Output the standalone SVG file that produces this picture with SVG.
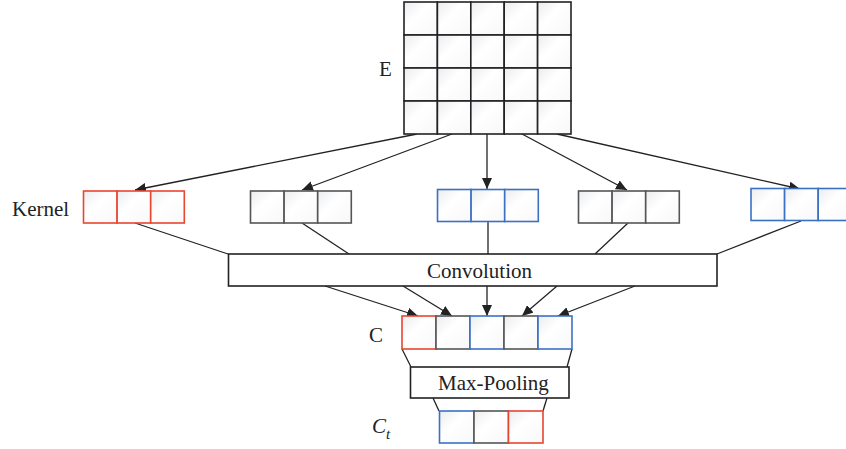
<svg xmlns="http://www.w3.org/2000/svg" width="846" height="449" viewBox="0 0 846 449">
<defs>
<linearGradient id="cellg" x1="0" y1="0" x2="1" y2="1">
<stop offset="0" stop-color="#ebecef"/>
<stop offset="0.4" stop-color="#ffffff"/>
<stop offset="1" stop-color="#f8f8fa"/>
</linearGradient>
<marker id="arr" markerUnits="userSpaceOnUse" markerWidth="12" markerHeight="10" refX="11" refY="5" orient="auto">
<path d="M0,0 L11,5 L0,10 Z" fill="#222"/>
</marker>
<style>
.c{fill:url(#cellg);stroke-width:1.6}
.k{stroke:#222}
.r{stroke:#e8462f}
.b{stroke:#3b71c2}
.g{stroke:#555}
.ln{fill:none;stroke:#222;stroke-width:1.3}
.box{fill:#fff;stroke:#222;stroke-width:1.6}
.t{font-family:"Liberation Serif","Times New Roman",serif;font-size:21px;fill:#222}
</style>
</defs>
<g id="connectors">
<line class="ln" x1="417" y1="134" x2="135" y2="190" marker-end="url(#arr)"/>
<line class="ln" x1="452" y1="134" x2="302" y2="190" marker-end="url(#arr)"/>
<line class="ln" x1="487" y1="134" x2="487" y2="189" marker-end="url(#arr)"/>
<line class="ln" x1="522" y1="134" x2="627" y2="190" marker-end="url(#arr)"/>
<line class="ln" x1="557" y1="134" x2="800" y2="189" marker-end="url(#arr)"/>
<line class="ln" x1="135" y1="223" x2="228" y2="254"/>
<line class="ln" x1="302" y1="223" x2="349" y2="254"/>
<line class="ln" x1="488" y1="222" x2="488" y2="254"/>
<line class="ln" x1="628" y1="223" x2="595" y2="254"/>
<line class="ln" x1="801" y1="221" x2="717" y2="254"/>
<line class="ln" x1="325" y1="286" x2="418" y2="316" marker-end="url(#arr)"/>
<line class="ln" x1="403" y1="286" x2="452" y2="316" marker-end="url(#arr)"/>
<line class="ln" x1="487" y1="286" x2="487" y2="316" marker-end="url(#arr)"/>
<line class="ln" x1="557" y1="286" x2="522" y2="316" marker-end="url(#arr)"/>
<line class="ln" x1="635" y1="286" x2="558" y2="316" marker-end="url(#arr)"/>
<line class="ln" x1="402" y1="349" x2="411" y2="367"/>
<line class="ln" x1="572" y1="349" x2="567" y2="367"/>
<line class="ln" x1="433" y1="398" x2="439" y2="411"/>
<line class="ln" x1="547" y1="398" x2="543" y2="411"/>
</g>
<g id="E">
<g class="k">
<rect class="c" x="404" y="2" width="33.4" height="33"/><rect class="c" x="437.4" y="2" width="33.4" height="33"/><rect class="c" x="470.8" y="2" width="33.4" height="33"/><rect class="c" x="504.2" y="2" width="33.4" height="33"/><rect class="c" x="537.6" y="2" width="33.4" height="33"/>
<rect class="c" x="404" y="35" width="33.4" height="33"/><rect class="c" x="437.4" y="35" width="33.4" height="33"/><rect class="c" x="470.8" y="35" width="33.4" height="33"/><rect class="c" x="504.2" y="35" width="33.4" height="33"/><rect class="c" x="537.6" y="35" width="33.4" height="33"/>
<rect class="c" x="404" y="68" width="33.4" height="33"/><rect class="c" x="437.4" y="68" width="33.4" height="33"/><rect class="c" x="470.8" y="68" width="33.4" height="33"/><rect class="c" x="504.2" y="68" width="33.4" height="33"/><rect class="c" x="537.6" y="68" width="33.4" height="33"/>
<rect class="c" x="404" y="101" width="33.4" height="33"/><rect class="c" x="437.4" y="101" width="33.4" height="33"/><rect class="c" x="470.8" y="101" width="33.4" height="33"/><rect class="c" x="504.2" y="101" width="33.4" height="33"/><rect class="c" x="537.6" y="101" width="33.4" height="33"/>
</g>
<text class="t" x="379" y="76">E</text>
</g>
<g id="kernel1" class="r">
<rect class="c" x="83.5" y="191" width="33.6" height="32"/><rect class="c" x="117.1" y="191" width="33.6" height="32"/><rect class="c" x="150.7" y="191" width="33.6" height="32"/>
<text class="t" x="12" y="216" stroke="none">Kernel</text>
</g>
<g id="kernel2" class="g">
<rect class="c" x="250.5" y="191" width="33.6" height="32"/><rect class="c" x="284.1" y="191" width="33.6" height="32"/><rect class="c" x="317.7" y="191" width="33.6" height="32"/>
</g>
<g id="kernel3" class="b">
<rect class="c" x="437.5" y="189.5" width="33.6" height="32"/><rect class="c" x="471.1" y="189.5" width="33.6" height="32"/><rect class="c" x="504.7" y="189.5" width="33.6" height="32"/>
</g>
<g id="kernel4" class="g">
<rect class="c" x="578.5" y="191" width="33.6" height="32"/><rect class="c" x="612.1" y="191" width="33.6" height="32"/><rect class="c" x="645.7" y="191" width="33.6" height="32"/>
</g>
<g id="kernel5" class="b">
<rect class="c" x="751" y="188.5" width="33.6" height="32"/><rect class="c" x="784.6" y="188.5" width="33.6" height="32"/><rect class="c" x="818.2" y="188.5" width="33.6" height="32"/>
</g>
<g id="convolution">
<rect class="box" x="228.5" y="254" width="488.5" height="32"/>
<text class="t" x="427" y="278">Convolution</text>
</g>
<g id="C">
<rect class="c r" x="402" y="316" width="34" height="33"/>
<rect class="c g" x="436" y="316" width="34" height="33"/>
<rect class="c b" x="470" y="316" width="34" height="33"/>
<rect class="c g" x="504" y="316" width="34" height="33"/>
<rect class="c b" x="538" y="316" width="34" height="33"/>
<text class="t" x="369" y="342">C</text>
</g>
<g id="maxpooling">
<rect class="box" x="410.5" y="367" width="158.5" height="31"/>
<text class="t" x="438" y="390">Max-Pooling</text>
</g>
<g id="Ct">
<rect class="c b" x="439.5" y="411" width="34.5" height="32"/>
<rect class="c g" x="474" y="411" width="34.5" height="32"/>
<rect class="c r" x="508.5" y="411" width="34.5" height="32"/>
<text class="t" x="372" y="433" font-style="italic">C<tspan font-size="15" dy="6">t</tspan></text>
</g>
</svg>
